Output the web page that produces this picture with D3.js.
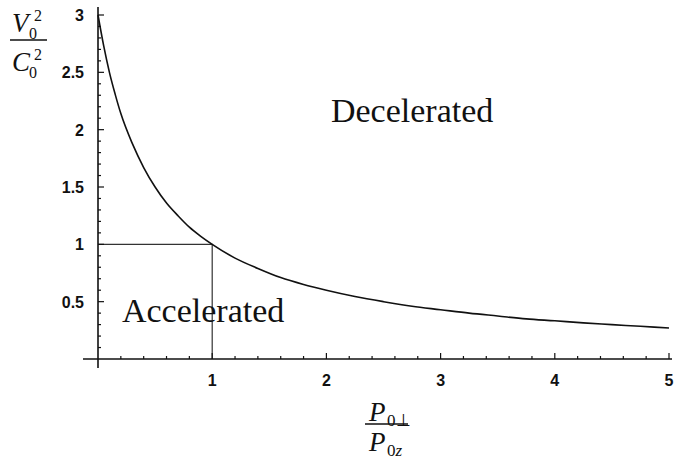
<!DOCTYPE html>
<html><head><meta charset="utf-8">
<script src="https://cdn.jsdelivr.net/npm/d3@7"></script>
<style>body{margin:0;background:#fff}svg{display:block}</style>
</head><body>
<svg id="c" width="676" height="462"></svg>
<script>
// Data
const curveX = [0,0.05,0.1,0.15,0.2,0.3,0.4,0.5,0.6,0.7,0.8,0.9,1,1.2,1.4,1.6,1.8,2,2.25,2.5,2.75,3,3.25,3.5,3.75,4,4.25,4.5,4.75,5];
const curveY = [3,2.73,2.5,2.31,2.14,1.88,1.67,1.5,1.36,1.25,1.15,1.07,1.0,0.88,0.79,0.71,0.65,0.6,0.545,0.5,0.46,0.43,0.40,0.375,0.35,0.333,0.315,0.30,0.285,0.27];
const xTicks = [1,2,3,4,5];
const xTickLabels = ["1","2","3","4","5"];
const yTicks = [0.5,1,1.5,2,2.5,3];
const yTickLabels = ["0.5","1","1.5","2","2.5","3"];
const xMinor = [0.2,0.4,0.6,0.8,1.2,1.4,1.6,1.8,2.2,2.4,2.6,2.8,3.2,3.4,3.6,3.8,4.2,4.4,4.6,4.8];
const yMinor = [0.1,0.2,0.3,0.4,0.6,0.7,0.8,0.9,1.1,1.2,1.3,1.4,1.6,1.7,1.8,1.9,2.1,2.2,2.3,2.4,2.6,2.7,2.8,2.9];
const corner = {x:1, y:1};
const regionLabels = [{text:"Decelerated", x:2.04, y:2.07},{text:"Accelerated", x:0.21, y:0.32}];

const svg = d3.select("#c");
const x = d3.scaleLinear().domain([0,5]).range([98,669]);
const y = d3.scaleLinear().domain([0,3]).range([359,15]);
const ink = "#111";

// corner rectangle
svg.append("path")
  .attr("d", `M${x(0)},${y(corner.y)}H${x(corner.x)}V${y(0)}`)
  .attr("fill","none").attr("stroke","#333").attr("stroke-width",1.2);

// axes lines
svg.append("line").attr("x1",83).attr("x2",672).attr("y1",y(0)).attr("y2",y(0)).attr("stroke",ink).attr("stroke-width",1.6);
svg.append("line").attr("x1",x(0)).attr("x2",x(0)).attr("y1",7).attr("y2",368).attr("stroke",ink).attr("stroke-width",1.6);

// x ticks
const xg = svg.append("g");
xg.selectAll("line.maj").data(xTicks).join("line")
  .attr("x1",d=>x(d)).attr("x2",d=>x(d)).attr("y1",y(0)).attr("y2",y(0)-6)
  .attr("stroke",ink).attr("stroke-width",1.2);
xg.selectAll("line.min").data(xMinor).join("line").attr("class","min")
  .attr("x1",d=>x(d)).attr("x2",d=>x(d)).attr("y1",y(0)).attr("y2",y(0)-3)
  .attr("stroke",ink).attr("stroke-width",1.2);
xg.selectAll("text").data(xTicks).join("text")
  .attr("x",d=>x(d)).attr("y",y(0)+27).attr("text-anchor","middle")
  .attr("font-family","Liberation Sans, Arial, sans-serif").attr("font-size",16).attr("font-weight","bold")
  .attr("fill",ink).text((d,i)=>xTickLabels[i]);

// y ticks
const yg = svg.append("g");
yg.selectAll("line.maj").data(yTicks).join("line")
  .attr("x1",x(0)).attr("x2",x(0)+6).attr("y1",d=>y(d)).attr("y2",d=>y(d))
  .attr("stroke",ink).attr("stroke-width",1.2);
yg.selectAll("line.min").data(yMinor).join("line").attr("class","min")
  .attr("x1",x(0)).attr("x2",x(0)+3).attr("y1",d=>y(d)).attr("y2",d=>y(d))
  .attr("stroke",ink).attr("stroke-width",1.2);
yg.selectAll("text").data(yTicks).join("text")
  .attr("x",84).attr("y",d=>y(d)+6).attr("text-anchor","end")
  .attr("font-family","Liberation Sans, Arial, sans-serif").attr("font-size",16).attr("font-weight","bold")
  .attr("fill",ink).text((d,i)=>yTickLabels[i]);

// curve
const line = d3.line().x(d=>x(d[0])).y(d=>y(d[1])).curve(d3.curveMonotoneX);
svg.append("path").datum(curveX.map((v,i)=>[v,curveY[i]]))
  .attr("d",line).attr("fill","none").attr("stroke",ink).attr("stroke-width",1.6);

// region labels
svg.selectAll("text.reg").data(regionLabels).join("text").attr("class","reg")
  .attr("x",d=>x(d.x)).attr("y",d=>y(d.y))
  .attr("font-family","Liberation Serif, Times New Roman, serif").attr("font-size",34)
  .attr("fill",ink).text(d=>d.text);

// axis titles (fractions)
const serif = "Liberation Serif, Times New Roman, serif";
function bar(g, bx1, bx2, by){
  g.append("line").attr("x1",bx1).attr("x2",bx2).attr("y1",by).attr("y2",by).attr("stroke",ink).attr("stroke-width",1.3);
}
const yl = svg.append("g").attr("font-family",serif).attr("fill",ink);
yl.append("text").attr("x",12).attr("y",32).attr("font-size",27).attr("font-style","italic").text("V");
yl.append("text").attr("x",29).attr("y",39).attr("font-size",16).text("0");
yl.append("text").attr("x",34).attr("y",21).attr("font-size",16).text("2");
bar(yl,10,47,40);
yl.append("text").attr("x",12).attr("y",71).attr("font-size",27).attr("font-style","italic").text("C");
yl.append("text").attr("x",29).attr("y",78).attr("font-size",16).text("0");
yl.append("text").attr("x",34).attr("y",60).attr("font-size",16).text("2");

const xl = svg.append("g").attr("font-family",serif).attr("fill",ink);
xl.append("text").attr("x",369).attr("y",421).attr("font-size",27).attr("font-style","italic").text("P");
xl.append("text").attr("x",387).attr("y",426).attr("font-size",17).text("0⊥");
bar(xl,365,408,424);
xl.append("text").attr("x",369).attr("y",451).attr("font-size",27).attr("font-style","italic").text("P");
const sub = xl.append("text").attr("x",387).attr("y",456).attr("font-size",17);
sub.append("tspan").text("0");
sub.append("tspan").attr("font-style","italic").text("z");
</script>
</body></html>
